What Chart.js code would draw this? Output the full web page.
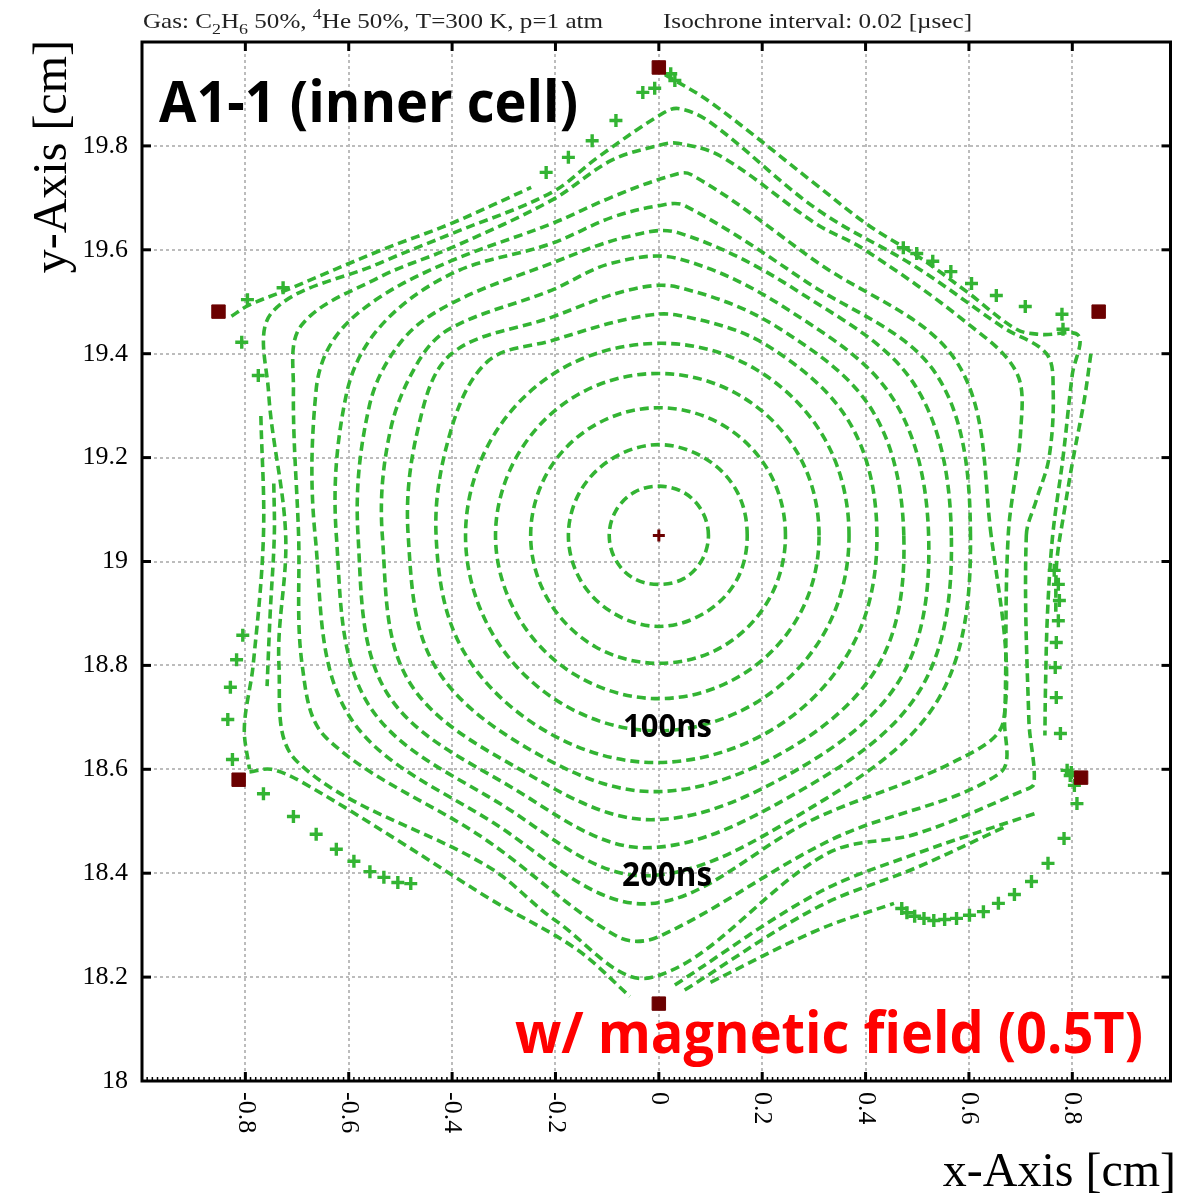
<!DOCTYPE html>
<html>
<head>
<meta charset="utf-8">
<script src="https://cdn.jsdelivr.net/npm/chart.js@4.4.1/dist/chart.umd.min.js"></script>
<style>
  html, body { margin: 0; padding: 0; background: #fff; }
  #wrap { width: 1181px; height: 1197px; position: relative; }
</style>
</head>
<body>
<div id="wrap"><canvas id="isoChart"></canvas></div>
<script>
// tick marks / labels
const xTickValues = [-0.8, -0.6, -0.4, -0.2, 0, 0.2, 0.4, 0.6, 0.8];
const xTickLabels = ['-0.8', '-0.6', '-0.4', '-0.2', '0', '0.2', '0.4', '0.6', '0.8'];
const yTickValues = [18, 18.2, 18.4, 18.6, 18.8, 19, 19.2, 19.4, 19.6, 19.8];
const yTickLabels = ['18', '18.2', '18.4', '18.6', '18.8', '19', '19.2', '19.4', '19.6', '19.8'];

// wires: six field wires round the hexagon, sense wire in the middle
const fieldWireX = [0, -0.852, 0.851, -0.813, 0.817, 0];
const fieldWireY = [19.951, 19.481, 19.481, 18.580, 18.584, 18.149];
const senseWireX = [0];
const senseWireY = [19.05];

// drift line end points (green crosses)
const endX = [-0.218, -0.175, -0.129, -0.083, -0.031, -0.008, 0.023, 0.031,
  -0.796, -0.727, -0.807, -0.775,
  0.473, 0.499, 0.530, 0.565, 0.605, 0.653, 0.709, 0.780, 0.782,
  0.765, 0.773, 0.775, 0.773, 0.769, 0.767, 0.769, 0.777,
  0.790, 0.796, 0.798, 0.804, 0.809, 0.784, 0.753, 0.721, 0.688, 0.657, 0.628, 0.601, 0.576, 0.553, 0.532, 0.513, 0.495, 0.480, 0.470,
  -0.805, -0.817, -0.829, -0.834, -0.825,
  -0.765, -0.707, -0.663, -0.624, -0.590, -0.559, -0.532, -0.505, -0.480];
const endY = [19.749, 19.778, 19.810, 19.849, 19.903, 19.911, 19.939, 19.926,
  19.504, 19.527, 19.422, 19.358,
  19.604, 19.593, 19.578, 19.558, 19.535, 19.512, 19.491, 19.476, 19.447,
  18.983, 18.956, 18.925, 18.886, 18.844, 18.796, 18.738, 18.669,
  18.598, 18.588, 18.594, 18.569, 18.534, 18.467, 18.419, 18.384, 18.359, 18.342, 18.326, 18.319, 18.313, 18.311, 18.309, 18.313, 18.317, 18.324, 18.332,
  18.858, 18.811, 18.758, 18.696, 18.619,
  18.553, 18.509, 18.475, 18.446, 18.423, 18.403, 18.392, 18.382, 18.380];

// closed isochrones, 20 ns apart
const iso01 = [[0.096, 19.050], [0.083, 19.098], [0.048, 19.133], [0, 19.145], [-0.048, 19.133], [-0.083, 19.098],
  [-0.096, 19.050], [-0.083, 19.002], [-0.048, 18.967], [0, 18.956], [0.048, 18.967], [0.083, 19.002]];
const iso02 = [[0.171, 19.050], [0.150, 19.137], [0.087, 19.200], [0, 19.225], [-0.087, 19.200], [-0.151, 19.137],
  [-0.175, 19.050], [-0.151, 18.963], [-0.087, 18.900], [0, 18.875], [0.087, 18.900], [0.150, 18.963]];
const iso03 = [[0.245, 19.050], [0.213, 19.173], [0.123, 19.263], [0, 19.296], [-0.123, 19.263], [-0.214, 19.174],
  [-0.248, 19.050], [-0.214, 18.926], [-0.123, 18.836], [0, 18.804], [0.123, 18.836], [0.213, 18.927]];
const iso04 = [[0.310, 19.050], [0.270, 19.206], [0.156, 19.320], [0, 19.362], [-0.157, 19.321], [-0.272, 19.207],
  [-0.316, 19.050], [-0.272, 18.893], [-0.157, 18.779], [0, 18.736], [0.156, 18.779], [0.270, 18.894]];
const iso05 = [[0.368, 19.050], [0.321, 19.236], [0.186, 19.371], [0.005, 19.420], [-0.186, 19.372], [-0.323, 19.237],
  [-0.374, 19.050], [-0.323, 18.863], [-0.187, 18.726], [-0.003, 18.674], [0.186, 18.727], [0.321, 18.864]];
const iso06 = [[0.422, 19.050], [0.371, 19.264], [0.211, 19.415], [0.037, 19.474], [-0.054, 19.468], [-0.208, 19.425],
  [-0.329, 19.387], [-0.400, 19.260], [-0.431, 19.050], [-0.380, 18.831], [-0.218, 18.673], [-0.005, 18.613],
  [0.217, 18.675], [0.373, 18.835]];
const iso07 = [[0.474, 19.050], [0.414, 19.289], [0.231, 19.450], [0.037, 19.528], [-0.060, 19.522], [-0.208, 19.470],
  [-0.401, 19.400], [-0.465, 19.260], [-0.485, 19.050], [-0.434, 18.800], [-0.241, 18.633], [-0.010, 18.557],
  [0.241, 18.633], [0.427, 18.804]];
const iso08 = [[0.522, 19.050], [0.454, 19.312], [0.251, 19.484], [0.037, 19.583], [-0.092, 19.574], [-0.208, 19.522],
  [-0.401, 19.450], [-0.464, 19.387], [-0.520, 19.250], [-0.535, 19.050], [-0.484, 18.770], [-0.262, 18.596],
  [-0.015, 18.503], [0.262, 18.596], [0.470, 18.779]];
const iso09 = [[0.566, 19.050], [0.497, 19.337], [0.271, 19.519], [0.037, 19.633], [-0.066, 19.624], [-0.208, 19.574],
  [-0.401, 19.497], [-0.497, 19.425], [-0.560, 19.300], [-0.582, 19.050], [-0.526, 18.747], [-0.281, 18.563],
  [-0.027, 18.449], [0.281, 18.563], [0.508, 18.757]];
const iso10 = [[0.603, 19.050], [0.537, 19.360], [0.283, 19.540], [0.050, 19.685], [0, 19.685], [-0.092, 19.662],
  [-0.208, 19.612], [-0.401, 19.554], [-0.541, 19.450], [-0.605, 19.320], [-0.624, 19.050], [-0.562, 18.725],
  [-0.301, 18.530], [-0.030, 18.395], [0.301, 18.530], [0.542, 18.737]];
const iso11 = [[0.643, 19.050], [0.577, 19.383], [0.305, 19.577], [0.062, 19.745], [0.012, 19.739], [-0.092, 19.701],
  [-0.208, 19.650], [-0.401, 19.579], [-0.541, 19.508], [-0.628, 19.429], [-0.663, 19.331], [-0.665, 19.050],
  [-0.600, 18.704], [-0.320, 18.497], [-0.027, 18.341], [0.306, 18.507], [0.576, 18.617], [0.667, 18.694]];
const iso12 = [[0.676, 19.050], [0.700, 19.250], [0.692, 19.364], [0.595, 19.460], [0.397, 19.601], [0.306, 19.649],
  [0.120, 19.780], [0.037, 19.805], [0, 19.801], [-0.092, 19.772], [-0.208, 19.695], [-0.401, 19.604],
  [-0.541, 19.547], [-0.692, 19.454], [-0.707, 19.331], [-0.697, 19.050], [-0.690, 18.800], [-0.643, 18.660],
  [-0.337, 18.466], [-0.080, 18.278], [0, 18.278], [0.337, 18.466], [0.659, 18.592], [0.669, 18.694]];
const iso13 = [[0.711, 19.050], [0.730, 19.117], [0.755, 19.200], [0.763, 19.331], [0.750, 19.400], [0.667, 19.450],
  [0.499, 19.566], [0.306, 19.678], [0.100, 19.845], [0.037, 19.872], [0, 19.858], [-0.118, 19.778],
  [-0.208, 19.710], [-0.401, 19.631], [-0.541, 19.574], [-0.749, 19.479], [-0.755, 19.325], [-0.722, 19.050],
  [-0.735, 18.800], [-0.700, 18.615], [-0.326, 18.410], [-0.200, 18.309], [-0.015, 18.199], [0.326, 18.438],
  [0.499, 18.476], [0.705, 18.559], [0.726, 18.573], [0.716, 18.694]];

// open isochrone pieces that end on the drift line boundary
const arcUL = [[-0.827, 19.472], [-0.794, 19.493], [-0.717, 19.524], [-0.538, 19.599], [-0.401, 19.651], [-0.247, 19.720]];
const arcTop = [[0.012, 19.937], [0.100, 19.884], [0.306, 19.724], [0.403, 19.649], [0.499, 19.589], [0.595, 19.520],
  [0.692, 19.447], [0.740, 19.437], [0.812, 19.435], [0.800, 19.360], [0.782, 19.200], [0.762, 19.050],
  [0.752, 18.900], [0.748, 18.750], [0.747, 18.665]];
const arcR = [[0.836, 19.400], [0.823, 19.310], [0.802, 19.200], [0.785, 19.100], [0.770, 19.000], [0.768, 18.900]];
const arcL1 = [[-0.770, 19.280], [-0.765, 19.050], [-0.785, 18.800], [-0.802, 18.680], [-0.792, 18.600]];
const arcL2 = [[-0.745, 19.150], [-0.744, 19.050], [-0.752, 18.900], [-0.758, 18.760]];
const arcLL = [[-0.792, 18.595], [-0.750, 18.600], [-0.690, 18.575], [-0.500, 18.460], [-0.326, 18.350], [-0.161, 18.255], [-0.056, 18.163]];
const arcLR1 = [[0.031, 18.185], [0.306, 18.361], [0.499, 18.438], [0.734, 18.517]];
const arcLR2 = [[0.050, 18.175], [0.306, 18.334], [0.499, 18.411], [0.667, 18.488]];
const arcLR3 = [[0.100, 18.190], [0.306, 18.290], [0.455, 18.342]];

const closedIsochrones = [iso01, iso02, iso03, iso04, iso05, iso06, iso07, iso08, iso09, iso10, iso11, iso12, iso13];
const openIsochrones = [arcUL, arcTop, arcR, arcL1, arcL2, arcLL, arcLR1, arcLR2, arcLR3];

const green = '#33b433';
const darkRed = '#6b0000';
const serif = '"Liberation Serif", "DejaVu Serif", serif';
const sans = '"Open Sans", "Noto Sans", sans-serif';
const lineW = 3.6;
const dash = [9, 5];

const toPts = (xs, ys) => xs.map((x, i) => ({ x, y: ys[i] }));

// closed loop: pad with neighbours so the spline is smooth at the seam, hide the padding segments
function closedSet(pts) {
  const p = pts.map(([x, y]) => ({ x, y }));
  const n = p.length;
  return {
    data: [p[n - 1], ...p, p[0], p[1]],
    showLine: true, pointRadius: 0, borderWidth: lineW, borderDash: dash,
    borderColor: green, tension: 0.35, fill: false,
    segment: {
      borderColor: c => (c.p0DataIndex === 0 || c.p0DataIndex === n + 1) ? 'rgba(0,0,0,0)' : green
    }
  };
}
function openSet(pts) {
  return {
    data: pts.map(([x, y]) => ({ x, y })),
    showLine: true, pointRadius: 0, borderWidth: lineW, borderDash: dash,
    borderColor: green, tension: 0.35, fill: false
  };
}

// draw text stretched/squeezed to a given width, from its left edge
function fitText(ctx, text, x, y, w, font) {
  ctx.font = font;
  const m = ctx.measureText(text).width;
  ctx.save();
  ctx.translate(x, y);
  ctx.scale(w / m, 1);
  ctx.textAlign = 'left';
  ctx.textBaseline = 'alphabetic';
  ctx.fillText(text, 0, 0);
  ctx.restore();
}

// header line with sub/superscripts
function richText(ctx, parts, x, y, w, size) {
  let total = 0;
  const widths = parts.map(([t, kind]) => {
    ctx.font = (kind === 'n' ? size : Math.round(size * 0.7)) + 'px ' + serif;
    const m = ctx.measureText(t).width;
    total += m;
    return m;
  });
  ctx.save();
  ctx.translate(x, y);
  ctx.scale(w / total, 1);
  ctx.textAlign = 'left';
  let cx = 0;
  parts.forEach(([t, kind], i) => {
    ctx.font = (kind === 'n' ? size : Math.round(size * 0.7)) + 'px ' + serif;
    const dy = kind === 'sub' ? size * 0.28 : kind === 'sup' ? -size * 0.42 : 0;
    ctx.fillText(t, cx, dy);
    cx += widths[i];
  });
  ctx.restore();
}

const frame = {
  id: 'frame',
  beforeDatasetsDraw(chart) {
    const { ctx, chartArea: a, scales: { x, y } } = chart;
    ctx.save();
    ctx.strokeStyle = '#bcbcbc';
    ctx.lineWidth = 2;
    ctx.setLineDash([3, 3]);
    xTickValues.forEach(v => {
      const px = Math.round(x.getPixelForValue(v));
      ctx.beginPath(); ctx.moveTo(px, a.top); ctx.lineTo(px, a.bottom); ctx.stroke();
    });
    yTickValues.slice(1).forEach(v => {
      const py = Math.round(y.getPixelForValue(v));
      ctx.beginPath(); ctx.moveTo(a.left, py); ctx.lineTo(a.right, py); ctx.stroke();
    });
    ctx.restore();
  },
  afterDatasetsDraw(chart) {
    const { ctx, chartArea: a, scales: { x, y } } = chart;
    ctx.save();
    ctx.strokeStyle = '#000';
    ctx.fillStyle = '#000';

    // minor ticks along the bottom edge
    ctx.lineWidth = 1.5;
    for (let i = -99; i <= 98; i++) {
      const px = x.getPixelForValue(i / 100);
      ctx.beginPath(); ctx.moveTo(px, a.bottom); ctx.lineTo(px, a.bottom - 4); ctx.stroke();
    }
    // major ticks on all four sides
    ctx.lineWidth = 3;
    xTickValues.forEach(v => {
      const px = x.getPixelForValue(v);
      ctx.beginPath(); ctx.moveTo(px, a.bottom); ctx.lineTo(px, a.bottom - 9); ctx.stroke();
      ctx.beginPath(); ctx.moveTo(px, a.top); ctx.lineTo(px, a.top + 9); ctx.stroke();
    });
    yTickValues.slice(1).forEach(v => {
      const py = y.getPixelForValue(v);
      ctx.beginPath(); ctx.moveTo(a.left, py); ctx.lineTo(a.left + 9, py); ctx.stroke();
      ctx.beginPath(); ctx.moveTo(a.right, py); ctx.lineTo(a.right - 9, py); ctx.stroke();
    });
    ctx.lineWidth = 3;
    ctx.strokeRect(a.left, a.top, a.right - a.left, a.bottom - a.top);

    // tick labels
    ctx.font = '26px ' + serif;
    ctx.textAlign = 'right';
    ctx.textBaseline = 'middle';
    yTickValues.forEach((v, i) => ctx.fillText(yTickLabels[i], 128, y.getPixelForValue(v)));
    ctx.textAlign = 'left';
    xTickValues.forEach((v, i) => {
      ctx.save();
      ctx.translate(x.getPixelForValue(v), a.bottom + 11);
      ctx.rotate(Math.PI / 2);
      ctx.fillText(xTickLabels[i], 0, 0);
      ctx.restore();
    });

    // axis titles
    ctx.textBaseline = 'alphabetic';
    ctx.font = '48px ' + serif;
    ctx.textAlign = 'right';
    ctx.fillText('x-Axis [cm]', 1176, 1186);
    ctx.save();
    ctx.translate(66, 40);
    ctx.rotate(-Math.PI / 2);
    ctx.textAlign = 'right';
    ctx.fillText('y-Axis [cm]', 0, 0);
    ctx.restore();

    // header
    ctx.fillStyle = '#222';
    richText(ctx, [['Gas: C', 'n'], ['2', 'sub'], ['H', 'n'], ['6', 'sub'], [' 50%, ', 'n'], ['4', 'sup'],
      ['He 50%, T=300 K, p=1 atm', 'n']], 143, 28, 460, 21);
    richText(ctx, [['Isochrone interval: 0.02 [\u00b5sec]', 'n']], 663, 28, 309, 21);

    // annotations
    ctx.fillStyle = '#000';
    fitText(ctx, 'A1-1 (inner cell)', 159, 122, 419, 'bold 58px ' + sans);
    fitText(ctx, '100ns', 623, 737, 89, 'bold 33px ' + sans);
    fitText(ctx, '200ns', 622, 886, 90, 'bold 34px ' + sans);
    ctx.fillStyle = '#ff0000';
    fitText(ctx, 'w/ magnetic field (0.5T)', 515, 1053, 628, 'bold 57px ' + sans);
    ctx.restore();
  }
};

const datasets = [
  { data: toPts(fieldWireX, fieldWireY), pointStyle: 'rect', pointRadius: 9.5, backgroundColor: darkRed, borderColor: darkRed, borderWidth: 1 },
  { data: toPts(senseWireX, senseWireY), pointStyle: 'cross', pointRadius: 6, borderColor: darkRed, borderWidth: 3 },
  { data: toPts(endX, endY), pointStyle: 'cross', pointRadius: 6.5, borderColor: green, borderWidth: 3.4 },
  ...closedIsochrones.map(closedSet),
  ...openIsochrones.map(openSet)
];

new Chart(document.getElementById('isoChart'), {
  type: 'scatter',
  data: { datasets },
  options: {
    responsive: true,
    maintainAspectRatio: false,
    animation: false,
    events: [],
    layout: { padding: { left: 142, right: 6, top: 42, bottom: 116 } },
    scales: {
      x: { type: 'linear', min: -1, max: 0.99, display: false },
      y: { type: 'linear', min: 18, max: 20, display: false }
    },
    plugins: { legend: { display: false }, tooltip: { enabled: false } }
  },
  plugins: [frame]
});
</script>
</body>
</html>
